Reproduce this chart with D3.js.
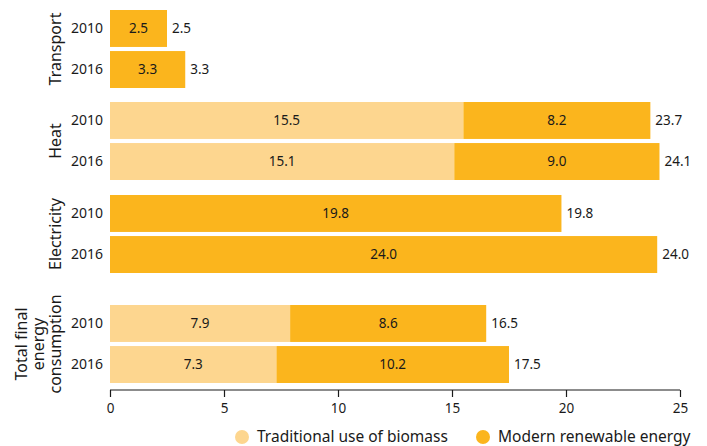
<!DOCTYPE html>
<html><head><meta charset="utf-8">
<script src="https://cdn.jsdelivr.net/npm/d3@7"></script>
<style>body{margin:0;background:#fff}svg{display:block}text{font-family:"Noto Sans",sans-serif;fill:#1a1a1a}</style>
</head><body><svg id="c" width="707" height="446"></svg>
<script>
const groups = ["Transport","Heat","Electricity","Total final energy consumption"];
const groupLabels = [["Transport"],["Heat"],["Electricity"],["Total final","energy","consumption"]];
const years = ["2010","2016"];
const traditional = [[0,0],[15.5,15.1],[0,0],[7.9,7.3]];
const modern = [[2.5,3.3],[8.2,9.0],[19.8,24.0],[8.6,10.2]];
const totals = [[2.5,3.3],[23.7,24.1],[19.8,24.0],[16.5,17.5]];
const xTicks = [0,5,10,15,20,25];
const seriesNames = ["Traditional use of biomass","Modern renewable energy"];
const colors = ["#FDD68F","#FBB51D"];

const svg = d3.select("#c");
const x = d3.scaleLinear().domain([0,25]).range([110,680]);
// group offsets (last group has extra room for its three-line label)
const gy = d3.scaleOrdinal().domain(groups).range([10,102,195,305]);
const yy = d3.scaleBand().domain(years).range([0,78]).paddingInner(0.1);

const rows = [];
groups.forEach((g,gi)=>years.forEach((yr,yi)=>rows.push({g,gi,yr,yi,t:traditional[gi][yi],m:modern[gi][yi],tot:totals[gi][yi]})));

const bh = yy.bandwidth();
const fs = 13.5;
rows.forEach(r=>{
  const y0 = gy(r.g)+yy(r.yr);
  if(r.t>0){
    svg.append("rect").attr("x",x(0)).attr("y",y0).attr("width",x(r.t)-x(0)).attr("height",bh).attr("fill",colors[0]);
    svg.append("text").attr("x",(x(0)+x(r.t))/2).attr("y",y0+bh/2).attr("dy","0.35em").attr("text-anchor","middle").attr("font-size",fs).text(r.t.toFixed(1));
  }
  svg.append("rect").attr("x",x(r.t)).attr("y",y0).attr("width",x(r.t+r.m)-x(r.t)).attr("height",bh).attr("fill",colors[1]);
  svg.append("text").attr("x",(x(r.t)+x(r.t+r.m))/2).attr("y",y0+bh/2).attr("dy","0.35em").attr("text-anchor","middle").attr("font-size",fs).text(r.m.toFixed(1));
  svg.append("text").attr("x",x(r.tot)+5).attr("y",y0+bh/2).attr("dy","0.35em").attr("font-size",fs).text(r.tot.toFixed(1));
  svg.append("text").attr("x",103).attr("y",y0+bh/2).attr("dy","0.35em").attr("text-anchor","end").attr("font-size",14).text(r.yr);
});

// group labels
groups.forEach((g,gi)=>{
  const cy = gy(g)+39;
  const lines = groupLabels[gi];
  const t = svg.append("text").attr("transform",`translate(${55-(lines.length-1)*17},${cy}) rotate(-90)`).attr("text-anchor","middle").attr("font-size",16);
  lines.forEach((l,i)=>t.append("tspan").attr("x",0).attr("dy",i===0?"0.35em":"17").text(l));
});

// axis
const ax = svg.append("g").attr("transform","translate(0,390)").call(d3.axisBottom(x).tickValues(xTicks).tickSize(7).tickPadding(6).tickFormat(d3.format("d")));
ax.select(".domain").attr("stroke","#1a1a1a").attr("stroke-width",1.2).attr("d","M110,0H680");
ax.selectAll(".tick line").attr("stroke","#1a1a1a").attr("stroke-width",1.2);
ax.selectAll(".tick text").attr("font-size",13.5).attr("font-family","Noto Sans").attr("fill","#1a1a1a");

// legend
const lx = [242,483];
seriesNames.forEach((s,i)=>{
  svg.append("circle").attr("cx",lx[i]).attr("cy",437).attr("r",7).attr("fill",colors[i]);
  svg.append("text").attr("x",lx[i]+15).attr("y",437).attr("dy","0.35em").attr("font-size",15.5).text(s);
});
</script></body></html>
